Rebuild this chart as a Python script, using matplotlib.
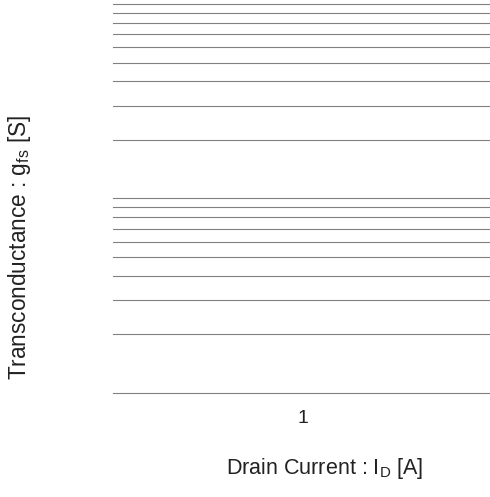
import matplotlib
matplotlib.use("Agg")
import matplotlib.pyplot as plt
from matplotlib.ticker import LogLocator, NullFormatter

plt.rcParams['font.family'] = ['Liberation Sans', 'DejaVu Sans']
plt.rcParams['mathtext.default'] = 'regular'

# axis ranges (log scales), only tick "1" is labelled on x
x_limits = [0.1, 10]
y_limits = [1, 100]
x_ticks = [1]
x_ticklabels = ["1"]
x_title = "Drain Current : I$_D$ [A]"
y_title = "Transconductance : g$_{fs}$ [S]"
text_col = '#222222'

fig = plt.figure(figsize=(4.9, 4.97), dpi=100)
ax = fig.add_axes([113/490, 104/497, 380/490, 389/497])

ax.set_xscale('log')
ax.set_yscale('log')
ax.set_xlim(x_limits)
ax.set_ylim(y_limits)

ax.set_xticks(x_ticks)
ax.set_xticklabels(x_ticklabels, fontsize=14, color=text_col)
ax.xaxis.set_minor_formatter(NullFormatter())
ax.yaxis.set_major_formatter(NullFormatter())
ax.yaxis.set_minor_formatter(NullFormatter())
ax.yaxis.set_minor_locator(LogLocator(base=10, subs=range(2, 10)))
ax.tick_params(which='both', length=0)
ax.tick_params(axis='x', pad=12)

for s in ax.spines.values():
	s.set_visible(False)

ax.grid(True, which='both', axis='y', color='#808080', linewidth=0.8)
for t in ax.yaxis.get_major_ticks() + ax.yaxis.get_minor_ticks():
	t.gridline.set_clip_on(False)
ax.set_axisbelow(True)

ax.set_xlabel(x_title, fontsize=15.5, color=text_col)
ax.xaxis.set_label_coords(0.557, -0.193)
ax.xaxis.label.set_va('center')
ax.set_ylabel(y_title, fontsize=16.3, color=text_col)
ax.yaxis.set_label_coords(-0.247, 0.373)
ax.yaxis.label.set_va('center')

fig.savefig("out.png", dpi=100)
